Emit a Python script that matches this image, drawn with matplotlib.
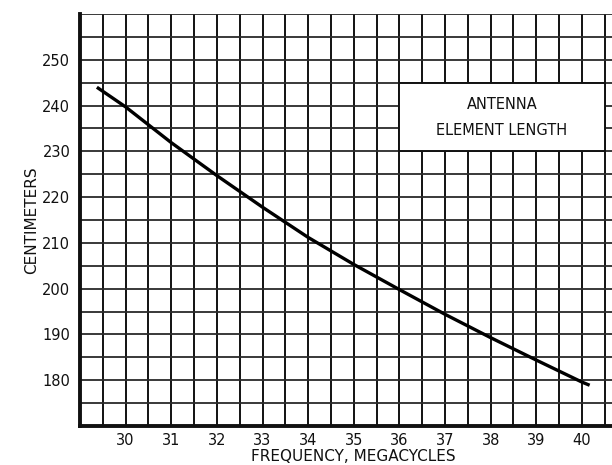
import matplotlib
matplotlib.use("Agg")
import matplotlib.pyplot as plt
from matplotlib.patches import Rectangle
import numpy as np

# Data
freq_mhz = [29.37, 30.0, 31.0, 32.0, 33.0, 34.0, 35.0, 36.0, 37.0, 38.0, 39.0, 40.0, 40.17]
length_cm = [244.0, 239.7, 231.9, 224.7, 217.8, 211.2, 205.3, 199.8, 194.4, 189.3, 184.4, 179.6, 178.9]

x_ticks = [30, 31, 32, 33, 34, 35, 36, 37, 38, 39, 40]
y_ticks = [180, 190, 200, 210, 220, 230, 240, 250]

title_lines = ["ANTENNA", "ELEMENT LENGTH"]
x_label = "FREQUENCY, MEGACYCLES"
y_label = "CENTIMETERS"

fig = plt.figure(figsize=(6.12, 4.65), dpi=100)
ax = fig.add_axes([80/612, 1 - 426/465, 1 - 80/612, (426 - 14)/465])

ax.set_xlim(29, 40.66)
ax.set_ylim(170, 260)

# grid
for gx in np.arange(29.5, 40.6, 0.5):
    ax.axvline(gx, color="#111111", lw=1.4, zorder=1)
for gy in np.arange(175, 260.1, 5):
    ax.axhline(gy, color="#2a2a2a", lw=1.3, zorder=1)

# label box
ax.add_patch(Rectangle((36.0, 230.0), 4.5, 15.0, facecolor="white",
                       edgecolor="#111111", lw=1.4, zorder=2))
ax.text(38.25, 240.2, title_lines[0], ha="center", va="center",
        fontsize=10.5, zorder=3, color="#111111")
ax.text(38.25, 234.6, title_lines[1], ha="center", va="center",
        fontsize=10.5, zorder=3, color="#111111")

# curve
ax.plot(freq_mhz, length_cm, color="black", lw=2.4, zorder=4,
        solid_capstyle="butt", solid_joinstyle="round")

ax.set_xticks(x_ticks)
ax.set_yticks(y_ticks)
ax.tick_params(length=0, labelsize=10.5, colors="#111111")
ax.tick_params(axis="x", pad=5)
ax.tick_params(axis="y", pad=7)

for s in ["top", "right"]:
    ax.spines[s].set_visible(False)
for s in ["left", "bottom"]:
    ax.spines[s].set_linewidth(2.8)
    ax.spines[s].set_color("#111111")
    ax.spines[s].set_zorder(5)

fig.text(353/612, 1 - 456/465, x_label, ha="center", va="center",
         fontsize=11, color="#111111")
fig.text(32/612, 1 - 220/465, y_label, ha="center", va="center",
         rotation=90, fontsize=11, color="#111111")

fig.savefig("out.png", dpi=100)
